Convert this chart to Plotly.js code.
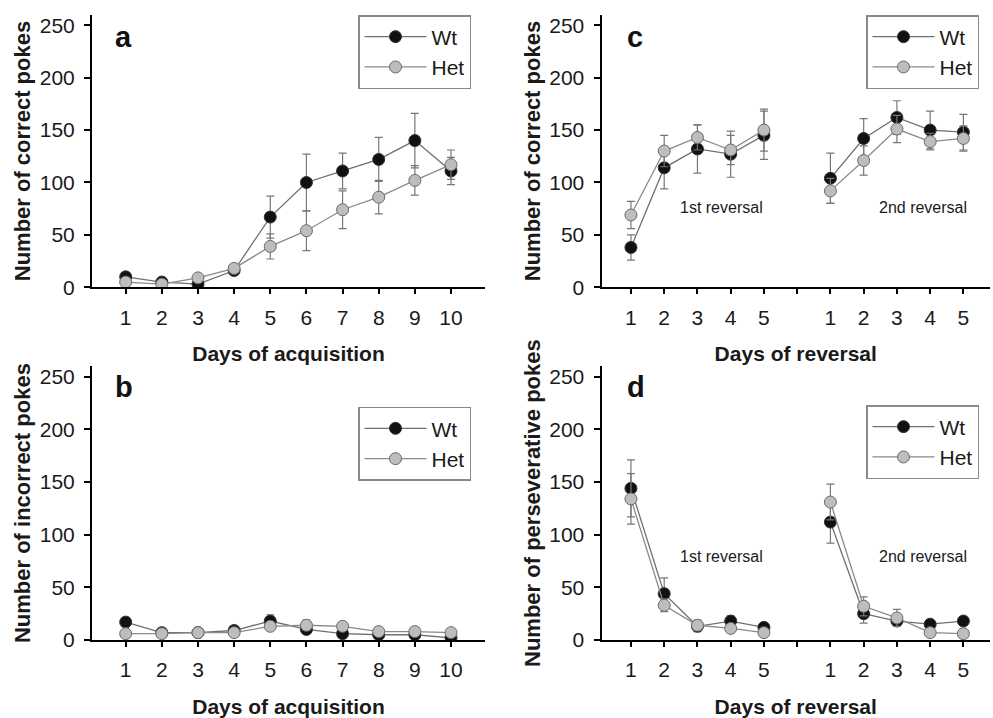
<!DOCTYPE html>
<html>
<head>
<meta charset="utf-8">
<script src="https://cdn.plot.ly/plotly-3.0.1.min.js"></script>
<style>html,body{margin:0;padding:0;background:#fff;}#chart{width:993px;height:718px;}</style>
</head>
<body>
<div id="chart"></div>
<script>
// ---------- data ----------
const acqDays = [1, 2, 3, 4, 5, 6, 7, 8, 9, 10];
const acqTickLabels = ['1', '2', '3', '4', '5', '6', '7', '8', '9', '10'];

const acqCorrectWt     = [10, 5, 3, 16, 67, 100, 111, 122, 140, 111];
const acqCorrectWtErr  = [3, 2, 2, 3, 20, 27, 17, 21, 26, 13];
const acqCorrectHet    = [5, 3, 9, 18, 39, 54, 74, 86, 102, 117];
const acqCorrectHetErr = [2, 2, 3, 3, 12, 19, 18, 16, 14, 14];

const acqIncorrectWt     = [17, 7, 7, 9, 18, 10, 6, 5, 5, 2];
const acqIncorrectWtErr  = [4, 2, 2, 2, 6, 3, 2, 1, 1, 1];
const acqIncorrectHet    = [6, 6, 7, 7, 13, 14, 13, 8, 8, 7];
const acqIncorrectHetErr = [2, 2, 2, 2, 4, 5, 3, 2, 2, 2];

const revDays = [1, 2, 3, 4, 5];
const revTickLabels = ['1', '2', '3', '4', '5', '', '1', '2', '3', '4', '5'];

const rev1CorrectWt     = [38, 114, 132, 127, 145];
const rev1CorrectWtErr  = [12, 20, 23, 22, 23];
const rev1CorrectHet    = [69, 130, 143, 131, 150];
const rev1CorrectHetErr = [13, 15, 12, 14, 20];
const rev2CorrectWt     = [104, 142, 162, 150, 148];
const rev2CorrectWtErr  = [24, 19, 16, 18, 17];
const rev2CorrectHet    = [92, 121, 151, 139, 142];
const rev2CorrectHetErr = [12, 14, 13, 8, 12];

const rev1PersevWt     = [144, 44, 13, 18, 12];
const rev1PersevWtErr  = [27, 15, 5, 5, 3];
const rev1PersevHet    = [134, 33, 14, 11, 7];
const rev1PersevHetErr = [24, 6, 5, 3, 2];
const rev2PersevWt     = [112, 25, 18, 15, 18];
const rev2PersevWtErr  = [20, 9, 5, 2, 3];
const rev2PersevHet    = [131, 32, 21, 7, 6];
const rev2PersevHetErr = [17, 9, 8, 2, 2];

const groupNames = ['Wt', 'Het'];
const reversalLabels = ['1st reversal', '2nd reversal'];
const panelLetters = ['a', 'b', 'c', 'd'];

// ---------- helpers ----------
const W = 993, H = 718;
const FONT = 'Liberation Sans, Arial, Helvetica, sans-serif';
const px = v => v / W;
const py = v => 1 - v / H;

// second reversal placed after one empty slot
const revGap = revDays.length + 1;
const revX = revDays.concat([revGap], revDays.map(d => d + revGap));
const joinRev = (a, b) => a.concat([null], b);

const style = {
  Wt:  {marker: {color: '#111111', size: 12, line: {color: '#333333', width: 1}}, line: {color: '#707070', width: 1.3}},
  Het: {marker: {color: '#bdbdbd', size: 12, line: {color: '#6a6a6a', width: 1}}, line: {color: '#8a8a8a', width: 1.3}}
};

function mk(x, y, err, group, xa, ya, legend) {
  return {
    type: 'scatter', mode: 'lines+markers',
    x: x, y: y, name: group,
    xaxis: xa, yaxis: ya, legend: legend,
    marker: style[group].marker, line: style[group].line,
    error_y: {type: 'data', array: err, visible: true, color: '#777777', thickness: 1.2, width: 4},
    connectgaps: false
  };
}

const traces = [
  mk(acqDays, acqCorrectWt, acqCorrectWtErr, groupNames[0], 'x', 'y', 'legend'),
  mk(acqDays, acqCorrectHet, acqCorrectHetErr, groupNames[1], 'x', 'y', 'legend'),
  mk(acqDays, acqIncorrectWt, acqIncorrectWtErr, groupNames[0], 'x2', 'y2', 'legend2'),
  mk(acqDays, acqIncorrectHet, acqIncorrectHetErr, groupNames[1], 'x2', 'y2', 'legend2'),
  mk(revX, joinRev(rev1CorrectWt, rev2CorrectWt), joinRev(rev1CorrectWtErr, rev2CorrectWtErr), groupNames[0], 'x3', 'y3', 'legend3'),
  mk(revX, joinRev(rev1CorrectHet, rev2CorrectHet), joinRev(rev1CorrectHetErr, rev2CorrectHetErr), groupNames[1], 'x3', 'y3', 'legend3'),
  mk(revX, joinRev(rev1PersevWt, rev2PersevWt), joinRev(rev1PersevWtErr, rev2PersevWtErr), groupNames[0], 'x4', 'y4', 'legend4'),
  mk(revX, joinRev(rev1PersevHet, rev2PersevHet), joinRev(rev1PersevHetErr, rev2PersevHetErr), groupNames[1], 'x4', 'y4', 'legend4')
];

const yTicks = [0, 50, 100, 150, 200, 250];

function xAxis(domain, range, tickvals, ticktext, title, anchor) {
  return {
    domain: domain, range: range, anchor: anchor,
    tickmode: 'array', tickvals: tickvals, ticktext: ticktext,
    showgrid: false, zeroline: false, showline: true, linecolor: '#000', linewidth: 2,
    ticks: 'outside', ticklen: 5, tickwidth: 2, tickcolor: '#000',
    ticklabelstandoff: 5,
    tickfont: {family: FONT, size: 21, color: '#1a1a1a'},
    title: {text: title, font: {family: FONT, size: 21, color: '#1a1a1a', weight: 'bold'}, standoff: 19},
    fixedrange: true
  };
}
function yAxis(domain, title, anchor) {
  return {
    domain: domain, range: [0, 260], anchor: anchor,
    tickmode: 'array', tickvals: yTicks, ticktext: yTicks.map(String),
    showgrid: false, zeroline: false, showline: true, linecolor: '#000', linewidth: 2,
    ticks: 'outside', ticklen: 6, tickwidth: 2, tickcolor: '#000',
    ticklabelstandoff: 5,
    tickfont: {family: FONT, size: 21, color: '#1a1a1a'},
    title: {text: title, font: {family: FONT, size: 22, color: '#1a1a1a', weight: 'bold'}, standoff: 3},
    fixedrange: true
  };
}

const leftX = [px(92), px(485)];
const rightX = [px(601.5), px(990)];
const topY = [py(287.3), py(14.8)];
const botY = [py(640), py(366.2)];
const acqRange = [0.068, 10.94];
const revRange = [0.114, 11.8];
const revTickVals = revX.slice();

function legendAt(x, y) {
  return {
    x: x, y: y, xanchor: 'left', yanchor: 'top', xref: 'paper', yref: 'paper',
    bgcolor: '#ffffff', bordercolor: '#8a8a8a', borderwidth: 1.5,
    font: {family: FONT, size: 21, color: '#1a1a1a'},
    tracegroupgap: 0, itemwidth: 62
  };
}

const annotations = [];
const letterPos = [[113, 37], [113, 387], [625, 37], [625, 387]];
panelLetters.forEach((t, i) => {
  annotations.push({text: '<b>' + t + '</b>', xref: 'paper', yref: 'paper', x: px(letterPos[i][0]), y: py(letterPos[i][1]),
    xanchor: 'left', yanchor: 'middle', showarrow: false, font: {family: FONT, size: 29, color: '#111'}});
});
// reversal labels placed in data coordinates
const revLabelX = [3.72, 9.77];
[['x3', 'y3', 75.7], ['x4', 'y4', 79]].forEach(([xa, ya, yv]) => {
  reversalLabels.forEach((t, i) => {
    annotations.push({text: t, xref: xa, yref: ya, x: revLabelX[i], y: yv, showarrow: false,
      font: {family: FONT, size: 16, color: '#1a1a1a'}});
  });
});

const layout = {
  width: W, height: H,
  margin: {l: 0, r: 0, t: 0, b: 0},
  paper_bgcolor: '#fff', plot_bgcolor: '#fff',
  font: {family: FONT, color: '#1a1a1a'},
  xaxis:  xAxis(leftX, acqRange, acqDays, acqTickLabels, 'Days of acquisition', 'y'),
  yaxis:  yAxis(topY, 'Number of correct pokes', 'x'),
  xaxis2: xAxis(leftX, acqRange, acqDays, acqTickLabels, 'Days of acquisition', 'y2'),
  yaxis2: yAxis(botY, 'Number of incorrect pokes', 'x2'),
  xaxis3: xAxis(rightX, revRange, revTickVals, revTickLabels, 'Days of reversal', 'y3'),
  yaxis3: yAxis(topY, 'Number of correct pokes', 'x3'),
  xaxis4: xAxis(rightX, revRange, revTickVals, revTickLabels, 'Days of reversal', 'y4'),
  yaxis4: yAxis(botY, 'Number of perseverative pokes', 'x4'),
  legend:  legendAt(px(358), py(15)),
  legend2: legendAt(px(358), py(406.7)),
  legend3: legendAt(px(866), py(15)),
  legend4: legendAt(px(866), py(405)),
  annotations: annotations,
  showlegend: true
};

Plotly.newPlot('chart', traces, layout, {staticPlot: true, displayModeBar: false});
</script>
</body>
</html>
